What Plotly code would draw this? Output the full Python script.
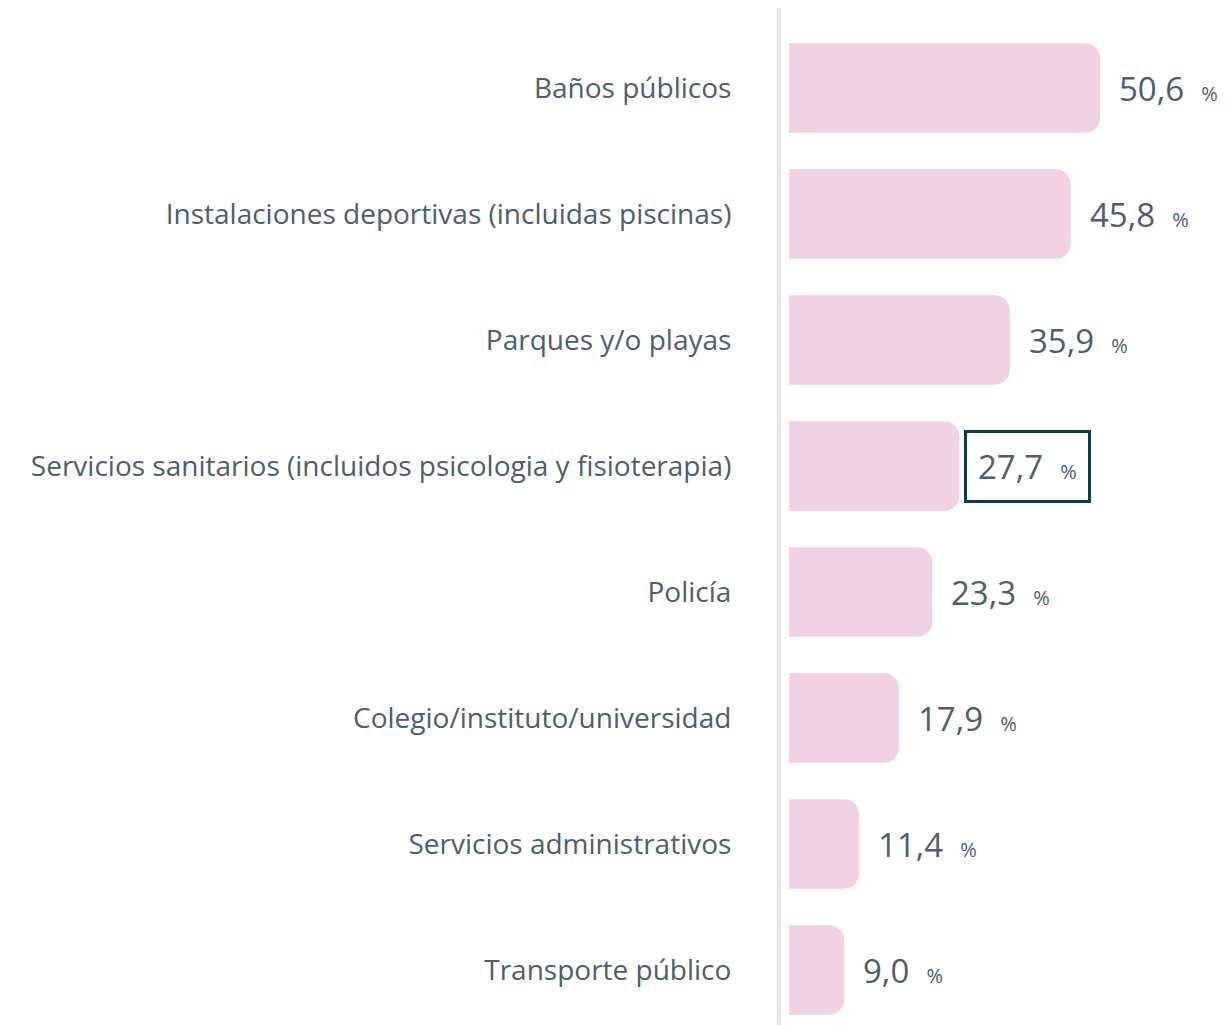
import plotly.graph_objects as go

categories = [
    "Baños públicos",
    "Instalaciones deportivas (incluidas piscinas)",
    "Parques y/o playas",
    "Servicios sanitarios (incluidos psicologia y fisioterapia)",
    "Policía",
    "Colegio/instituto/universidad",
    "Servicios administrativos",
    "Transporte público",
]
values = [50.6, 45.8, 35.9, 27.7, 23.3, 17.9, 11.4, 9.0]
highlighted = "Servicios sanitarios (incluidos psicologia y fisioterapia)"

TEXT_COLOR = "#4d5d72"
BAR_COLOR = "#f2d1e5"
FONT = "Open Sans"

fig = go.Figure(layout=go.Layout(width=1229, height=1025))

fig.add_trace(
    go.Bar(
        x=values,
        y=categories,
        orientation="h",
        marker={"color": BAR_COLOR, "line": {"width": 0}},
        hoverinfo="skip",
    )
)

# value labels: big number, small percent sign
for cat, val in zip(categories, values):
    label = f"{val:.1f}".replace(".", ",")
    boxed = cat == highlighted
    fig.add_annotation(
        x=val,
        y=cat,
        xref="x",
        yref="y",
        text=f"{label}\u00a0\u00a0<span style='font-size:20px'>%</span>",
        showarrow=False,
        xanchor="left",
        yanchor="middle",
        xshift=5,
        font={"family": FONT, "size": 33, "color": TEXT_COLOR, "weight": 500},
        bordercolor="#13394f" if boxed else "rgba(0,0,0,0)",
        borderwidth=3,
        borderpad=11,
    )

# the page body adds an 8px offset, so pixel targets are shifted by that
band = 126
top_px = 88 - 8  # first bar center below the top of the plot area
r_top = -top_px / band
fig.update_yaxes(
    categoryorder="array",
    categoryarray=categories,
    range=[r_top + 1025 / band, r_top],
    showgrid=False,
    zeroline=False,
    showline=True,
    linecolor="#e3e7ec",
    linewidth=4,
    ticks="",
    ticklabelstandoff=40,
    tickfont={"family": FONT, "size": 28, "color": TEXT_COLOR},
)
fig.update_xaxes(
    range=[-1.3, 72.85],
    showgrid=False,
    zeroline=False,
    showticklabels=False,
)
fig.update_layout(
    bargap=0.29,
    barcornerradius=15,
    plot_bgcolor="white",
    paper_bgcolor="white",
    showlegend=False,
    margin={"l": 773, "r": 0, "t": 0, "b": 0, "autoexpand": False},
    font={"family": FONT, "color": TEXT_COLOR},
)

fig.write_html("out.html")
